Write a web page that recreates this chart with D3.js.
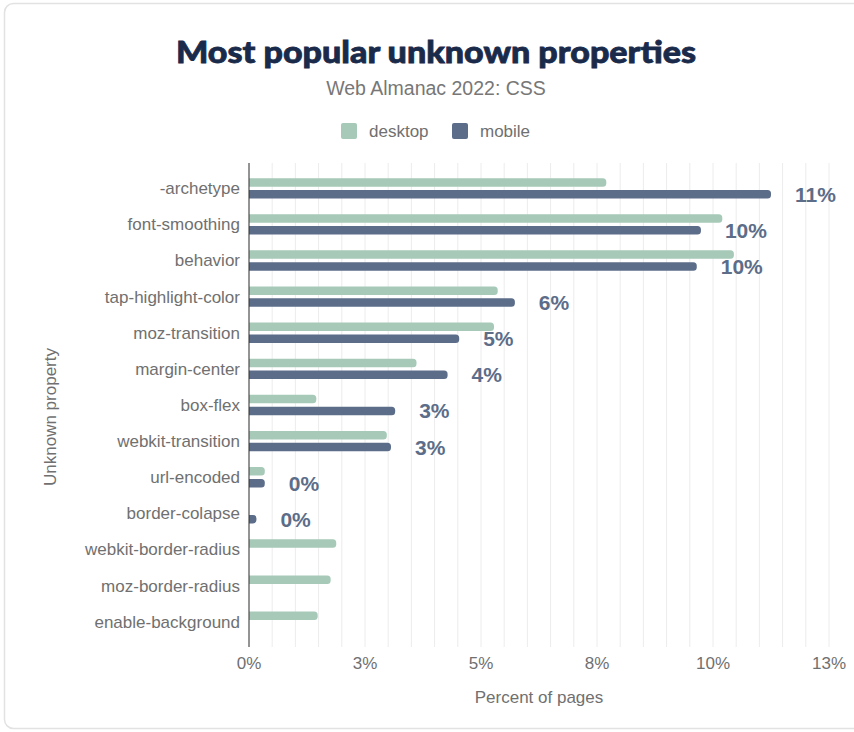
<!DOCTYPE html>
<html><head><meta charset="utf-8">
<script src="https://cdn.jsdelivr.net/npm/d3@7"></script>
<style>html,body{margin:0;padding:0;background:#fff;}svg{display:block;}</style>
</head><body>
<svg id="chart" width="854" height="732"></svg>
<script>
const categories = ["-archetype","font-smoothing","behavior","tap-highlight-color","moz-transition","margin-center","box-flex","webkit-transition","url-encoded","border-colapse","webkit-border-radius","moz-border-radius","enable-background"];
const desktop = [7.70, 10.20, 10.45, 5.36, 5.28, 3.61, 1.45, 2.97, 0.34, 0, 1.88, 1.76, 1.48];
const mobile  = [11.25, 9.74, 9.65, 5.73, 4.53, 4.28, 3.15, 3.06, 0.34, 0.16, 0, 0, 0];
const tickValues = [0, 2.5, 5, 7.5, 10, 12.5];
const tickLabels = ["0%", "3%", "5%", "8%", "10%", "13%"];
const seriesNames = ["desktop", "mobile"];
const colors = {desktop: "#a6c9b8", mobile: "#5c6d89"};

const svg = d3.select("#chart");
const font = "'Liberation Sans', Arial, Helvetica, sans-serif";
const textColor = "#707070";

// card
svg.append("rect").attr("x", 4.5).attr("y", 3.5).attr("width", 870).attr("height", 725)
  .attr("rx", 9).attr("fill", "#fff").attr("stroke", "#e2e2e2").attr("stroke-width", 1.5);

const x = d3.scaleLinear().domain([0, 12.5]).range([249, 829]);
const y = d3.scalePoint().domain(categories).range([163, 647]).padding(0.7);
const plotTop = 163, plotBottom = 647;

// gridlines
const grid = d3.range(0, 12.5001, 0.5);
svg.append("g").selectAll("line").data(grid).join("line")
  .attr("x1", d => x(d)).attr("x2", d => x(d)).attr("y1", plotTop).attr("y2", plotBottom)
  .attr("stroke", "#ececec").attr("stroke-width", 1);

// bars
const barH = 8.5, off = 5.9, r = 3.5;
function barPath(v, cy) {
  const x0 = x(0), x1 = x(v), y0 = cy - barH / 2, y1 = cy + barH / 2;
  const rr = Math.min(r, (x1 - x0) / 2, barH / 2);
  return `M${x0},${y0}H${x1 - rr}Q${x1},${y0} ${x1},${y0 + rr}V${y1 - rr}Q${x1},${y1} ${x1 - rr},${y1}H${x0}Z`;
}
const rows = categories.map((c, i) => ({c, d: desktop[i], m: mobile[i]}));
svg.append("g").selectAll("path").data(rows.filter(r => r.d > 0)).join("path")
  .attr("d", r => barPath(r.d, y(r.c) - off)).attr("fill", colors.desktop);
svg.append("g").selectAll("path").data(rows.filter(r => r.m > 0)).join("path")
  .attr("d", r => barPath(r.m, y(r.c) + off)).attr("fill", colors.mobile);

// value labels (mobile)
svg.append("g").selectAll("text").data(rows.filter(r => r.m > 0)).join("text")
  .attr("x", r => x(r.m) + 24).attr("y", r => y(r.c) + off)
  .attr("dy", "0.36em")
  .attr("font-family", font).attr("font-weight", 700).attr("font-size", 21)
  .attr("fill", colors.mobile).text(r => Math.round(r.m) + "%");

// y axis line
svg.append("line").attr("x1", x(0)).attr("x2", x(0)).attr("y1", plotTop).attr("y2", plotBottom)
  .attr("stroke", "#333").attr("stroke-width", 1);

// category labels
svg.append("g").selectAll("text").data(categories).join("text")
  .attr("x", 240).attr("y", d => y(d)).attr("dy", "0.35em").attr("text-anchor", "end")
  .attr("font-family", font).attr("font-size", 17).attr("fill", textColor).text(d => d);

// x tick labels
svg.append("g").selectAll("text").data(tickValues).join("text")
  .attr("x", d => x(d)).attr("y", 663).attr("dy", "0.35em").attr("text-anchor", "middle")
  .attr("font-family", font).attr("font-size", 17).attr("fill", textColor)
  .text((d, i) => tickLabels[i]);

// axis titles
svg.append("text").attr("x", 539).attr("y", 697).attr("dy", "0.35em").attr("text-anchor", "middle")
  .attr("font-family", font).attr("font-size", 17).attr("fill", textColor).text("Percent of pages");
svg.append("text").attr("transform", "translate(50,417) rotate(-90)").attr("dy", "0.35em")
  .attr("text-anchor", "middle").attr("font-family", font).attr("font-size", 17)
  .attr("fill", textColor).text("Unknown property");

// title
svg.append("text").attr("x", 436).attr("y", 63).attr("text-anchor", "middle")
  .attr("font-family", "Lato, 'DejaVu Sans', sans-serif").attr("font-weight", 900).attr("font-size", 31)
  .attr("textLength", 520).attr("lengthAdjust", "spacingAndGlyphs")
  .attr("fill", "#1a2a4a").attr("stroke", "#1a2a4a").attr("stroke-width", 0.8)
  .text("Most popular unknown properties");
svg.append("text").attr("x", 436).attr("y", 88).attr("dy", "0.35em").attr("text-anchor", "middle")
  .attr("font-family", font).attr("font-size", 19.5).attr("fill", "#777").text("Web Almanac 2022: CSS");

// legend
const legendX = [341, 452];
const lg = svg.append("g").selectAll("g").data(seriesNames).join("g")
  .attr("transform", (d, i) => `translate(${legendX[i]},131)`);
lg.append("rect").attr("x", 0).attr("y", -8).attr("width", 16).attr("height", 16).attr("rx", 2)
  .attr("fill", d => colors[d]);
lg.append("text").attr("x", 28).attr("y", 0).attr("dy", "0.35em")
  .attr("font-family", font).attr("font-size", 17).attr("fill", textColor).text(d => d);
</script>
</body></html>
